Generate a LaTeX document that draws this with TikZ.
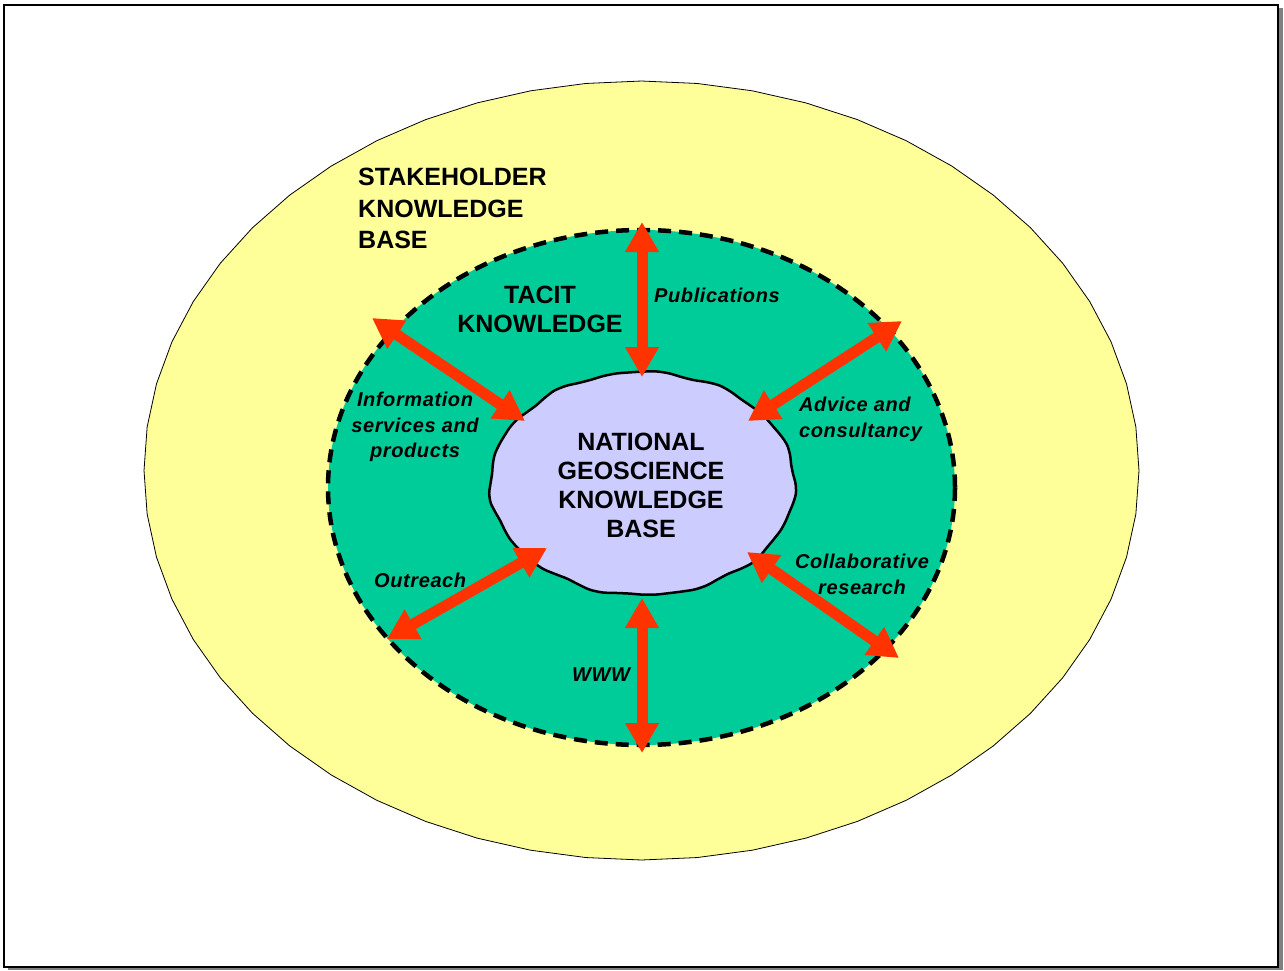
\documentclass[tikz,border=0pt]{standalone}
\usepackage{fontspec}
\setmainfont{Liberation Sans}
\usetikzlibrary{arrows.meta,shapes.geometric}
\definecolor{outeryellow}{HTML}{FFFF99}
\definecolor{tacitgreen}{HTML}{00CC99}
\definecolor{corelav}{HTML}{CCCCFF}
\definecolor{arrowred}{HTML}{FF3300}
\definecolor{shadowgray}{HTML}{808080}
\tikzset{
  dblarrow/.style={draw=arrowred, line width=11pt,
    {Triangle[length=30pt,width=32pt]}-{Triangle[length=30pt,width=32pt]}},
  bigtxt/.style={inner sep=0pt, font=\bfseries\fontsize{25}{29}\selectfont},
  lbltxt/.style={inner sep=0pt, font=\bfseries\itshape\fontsize{20}{25.5}\selectfont\addfontfeature{LetterSpace=3}},
}
\begin{document}
\begin{tikzpicture}[x=1pt,y=-1pt]
\useasboundingbox (0,0) rectangle (1284,970);
% frame with shadow
\fill[shadowgray] (8,8) rectangle (1283,970);
\draw[fill=white, line width=2pt] (4,5) rectangle (1278,967);
% outer stakeholder ellipse (faceted)
\draw[fill=outeryellow, line width=0.8pt]
  plot[samples=57, domain=0:360] ({641.5+497.5*cos(\x)}, {470.5+389.5*sin(\x)}) -- cycle;
% tacit knowledge ellipse
\node (tacit) [ellipse, draw=black, fill=tacitgreen, line width=4.5pt,
  dash pattern=on 13pt off 8pt, minimum width=627pt, minimum height=515pt, inner sep=0pt]
  at (641.5,487.5) {};
% core blob
\draw[fill=corelav, line width=2.5pt]
  plot[smooth cycle, samples=72, domain=0:355]
  ({642.5+(152.5+1.0*sin(11*\x)+0.8*sin(17*\x+40))*cos(\x)},
   {483.5+(111.5+1.0*sin(11*\x)+0.8*sin(17*\x+40))*sin(\x)});
\node (core) [bigtxt, align=center] at (641,485)
  {NATIONAL\\GEOSCIENCE\\KNOWLEDGE\\BASE};
% arrow end points
\coordinate (pubO) at (642,222);
\coordinate (pubI) at (642,377);
\coordinate (advO) at (902,321);
\coordinate (advI) at (748,421);
\coordinate (infO) at (372,318);
\coordinate (infI) at (525,421);
\coordinate (outO) at (387,639);
\coordinate (outI) at (547,548);
\coordinate (colO) at (899,658);
\coordinate (colI) at (747,552);
\coordinate (wwwO) at (642,753);
\coordinate (wwwI) at (642,598);
\draw[dblarrow] (pubO) -- (pubI);
\draw[dblarrow] (advO) -- (advI);
\draw[dblarrow] (infO) -- (infI);
\draw[dblarrow] (outO) -- (outI);
\draw[dblarrow] (colO) -- (colI);
\draw[dblarrow] (wwwO) -- (wwwI);
% texts
\node (stake) [bigtxt, align=left, anchor=north west, font=\bfseries\fontsize{25}{31.5}\selectfont]
  at (358,168) {STAKEHOLDER\\KNOWLEDGE\\BASE};
\node (tacitlbl) [bigtxt, align=center] at (540,309) {TACIT\\KNOWLEDGE};
\node (publbl) [lbltxt, anchor=base west] at (654,302) {Publications};
\node (advlbl) [lbltxt, align=left, anchor=north west] at (799,397) {Advice and\\consultancy};
\node (inflbl) [lbltxt, align=center, anchor=north] at (415,392) {Information\\services and\\products};
\node (outlbl) [lbltxt, anchor=base west] at (374,587) {Outreach};
\node (wwwlbl) [lbltxt, anchor=base west] at (572,681) {WWW};
\node (collbl) [lbltxt, align=center, anchor=north] at (862,554) {Collaborative\\research};
\end{tikzpicture}
\end{document}
